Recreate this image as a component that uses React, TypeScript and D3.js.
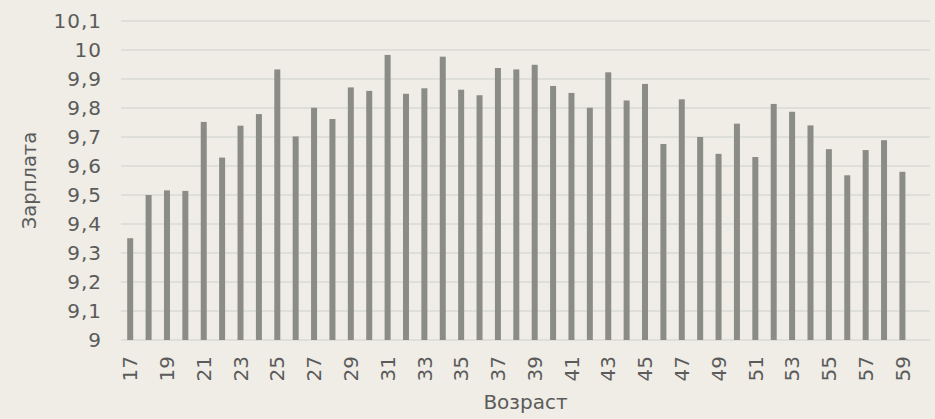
import React, { useEffect, useRef } from 'react';
import * as d3 from 'd3';

// Ages (last slot is empty in the source chart)
const ages: string[] = [
  '17', '18', '19', '20', '21', '22', '23', '24', '25', '26', '27', '28', '29', '30', '31',
  '32', '33', '34', '35', '36', '37', '38', '39', '40', '41', '42', '43', '44', '45', '46',
  '47', '48', '49', '50', '51', '52', '53', '54', '55', '56', '57', '58', '59', '60',
];

// log salary per age
const salary: (number | null)[] = [
  9.351, 9.5, 9.516, 9.514, 9.752, 9.629, 9.739, 9.779, 9.933, 9.702, 9.801, 9.762, 9.871, 9.859, 9.983,
  9.849, 9.868, 9.977, 9.863, 9.844, 9.938, 9.933, 9.949, 9.876, 9.852, 9.801, 9.923, 9.826, 9.883, 9.676,
  9.83, 9.7, 9.642, 9.746, 9.631, 9.814, 9.787, 9.74, 9.658, 9.568, 9.655, 9.689, 9.58, null,
];

const yTicks: number[] = [9, 9.1, 9.2, 9.3, 9.4, 9.5, 9.6, 9.7, 9.8, 9.9, 10, 10.1];

const W = 935;
const H = 419;
const FONT = '"DejaVu Sans", sans-serif';

const App = () => {
  const svgRef = useRef<SVGSVGElement>(null);

  useEffect(() => {
    document.body.style.margin = '0';
    if (!svgRef.current) return;
    const svg = d3.select(svgRef.current);
    svg.selectAll('*').remove();

    const left = 121, right = 930, top = 21, bottom = 340;

    const x = d3.scaleBand<string>()
      .domain(ages)
      .range([left, right])
      .paddingInner(0.674)
      .paddingOuter(0.337);

    const y = d3.scaleLinear().domain([9, 10.1]).range([bottom, top]);

    svg.append('rect')
      .attr('width', W)
      .attr('height', H)
      .attr('fill', '#EFEDE5');

    // gridlines
    svg.append('g')
      .selectAll('line')
      .data(yTicks)
      .enter().append('line')
      .attr('x1', left)
      .attr('x2', right)
      .attr('y1', d => y(d))
      .attr('y2', d => y(d))
      .attr('stroke', '#DADAD6')
      .attr('stroke-width', 1.5);

    // bars
    const data = ages.map((a, i) => ({ age: a, v: salary[i] })).filter(d => d.v !== null);
    svg.append('g')
      .selectAll('rect')
      .data(data)
      .enter().append('rect')
      .attr('x', d => x(d.age)!)
      .attr('width', x.bandwidth())
      .attr('y', d => y(d.v as number))
      .attr('height', d => bottom - y(d.v as number))
      .attr('fill', '#8B8C85');

    // y tick labels
    const fmt = (d: number) => String(Math.round(d * 10) / 10).replace('.', ',');
    svg.append('g')
      .selectAll('text')
      .data(yTicks)
      .enter().append('text')
      .attr('x', 102)
      .attr('y', d => y(d))
      .attr('dy', '0.36em')
      .attr('text-anchor', 'end')
      .style('font-family', FONT)
      .style('font-size', '20px')
      .style('letter-spacing', '1px')
      .style('fill', '#5B5B5B')
      .text(d => fmt(d));

    // x tick labels, every other age
    svg.append('g')
      .selectAll('text')
      .data(ages.filter((_, i) => i % 2 === 0))
      .enter().append('text')
      .attr('transform', d => `translate(${x(d)! + x.bandwidth() / 2},356) rotate(-90)`)
      .attr('dy', '0.36em')
      .attr('text-anchor', 'end')
      .style('font-family', FONT)
      .style('font-size', '20px')
      .style('fill', '#5B5B5B')
      .text(d => d);

    // axis titles
    svg.append('text')
      .attr('transform', `translate(36,${(top + bottom) / 2}) rotate(-90)`)
      .attr('text-anchor', 'middle')
      .style('font-family', FONT)
      .style('font-size', '19.5px')
      .style('fill', '#5B5B5B')
      .text('Зарплата');

    svg.append('text')
      .attr('x', (left + right) / 2)
      .attr('y', 409)
      .attr('text-anchor', 'middle')
      .style('font-family', FONT)
      .style('font-size', '20px')
      .style('fill', '#5B5B5B')
      .text('Возраст');
  }, []);

  return <svg ref={svgRef} width={W} height={H} style={{ display: 'block' }}></svg>;
};

export default App;
